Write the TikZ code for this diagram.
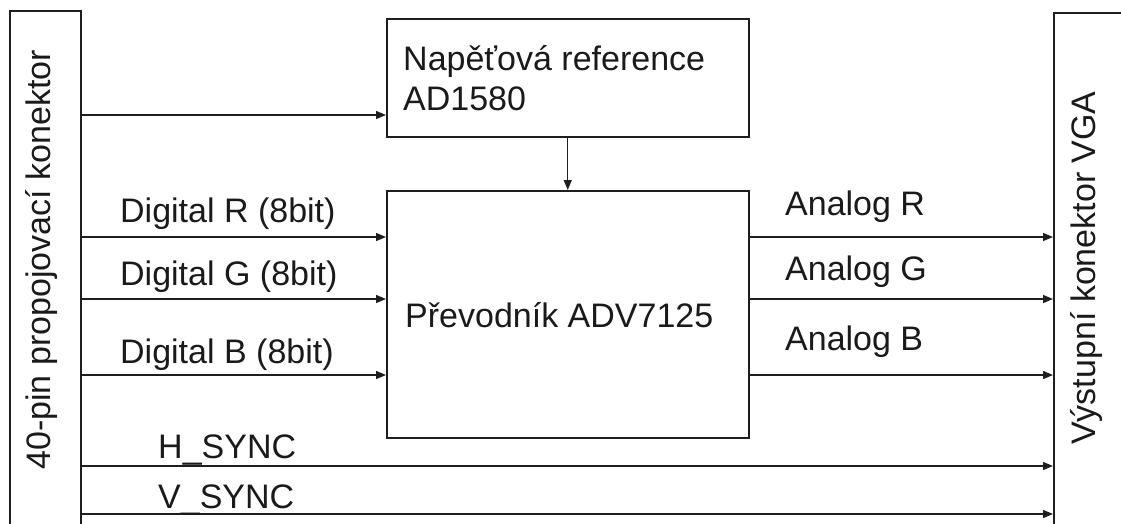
\documentclass[tikz,border=0pt]{standalone}
\usepackage{fontspec}
\setmainfont{Liberation Sans}
\usetikzlibrary{arrows.meta}
\definecolor{linec}{HTML}{1E1E1E}
\definecolor{txtc}{HTML}{1A1A1A}
\begin{document}
\begin{tikzpicture}[x=1pt,y=-1pt,
  box/.style={draw=linec, line width=1.5pt, inner sep=0pt, anchor=north west},
  arr/.style={draw=linec, line width=1.3pt, -{Triangle[length=10pt,width=8pt]}},
  lbl/.style={inner sep=0pt, anchor=base west, text=txtc, font=\fontsize{34}{39}\selectfont}]
\useasboundingbox (0,0) rectangle (1121,523);
\clip (0,0) rectangle (1121,523);
% boxes
\node[box, minimum width=71pt, minimum height=540pt] (left) at (9,10) {};
\node[box, minimum width=100pt, minimum height=540pt] (right) at (1053,12) {};
\node[box, minimum width=362pt, minimum height=118pt] (ref) at (386,18) {};
\node[box, minimum width=362pt, minimum height=247pt] (conv) at (386,190) {};
% box texts
\node[lbl, rotate=90, anchor=base] (leftt) at (50,260) {40-pin propojovací konektor};
\node[lbl, rotate=90, anchor=base] (rightt) at (1095,268) {Výstupní konektor VGA};
\node[lbl] (reft1) at (403,70) {Napěťová reference};
\node[lbl] (reft2) at (403,110) {AD1580};
\node[lbl] (convt) at (405,327) {Převodník ADV7125};
% line heights
\coordinate (yref) at (0,115);
\coordinate (yr) at (0,237);
\coordinate (yg) at (0,299);
\coordinate (yb) at (0,375);
\coordinate (yh) at (0,466);
\coordinate (yv) at (0,514);
% connectors
\draw[arr] (left.east |- yref) -- (ref.west |- yref);
\draw[arr] (ref.south) -- (conv.north);
\draw[arr] (left.east |- yr) -- (conv.west |- yr);
\draw[arr] (left.east |- yg) -- (conv.west |- yg);
\draw[arr] (left.east |- yb) -- (conv.west |- yb);
\draw[arr] (conv.east |- yr) -- (right.west |- yr);
\draw[arr] (conv.east |- yg) -- (right.west |- yg);
\draw[arr] (conv.east |- yb) -- (right.west |- yb);
\draw[arr] (left.east |- yh) -- (right.west |- yh);
\draw[arr] (left.east |- yv) -- (right.west |- yv);
% labels
\node[lbl] (ldr) at (120,222) {Digital R (8bit)};
\node[lbl] (ldg) at (120,285) {Digital G (8bit)};
\node[lbl] (ldb) at (120,363) {Digital B (8bit)};
\node[lbl] (lar) at (785,215) {Analog R};
\node[lbl] (lag) at (785,280) {Analog G};
\node[lbl] (lab) at (785,350) {Analog B};
\node[lbl] (lhs) at (158,458) {H\_SYNC};
\node[lbl] (lvs) at (158,508) {V\_SYNC};
\end{tikzpicture}
\end{document}
